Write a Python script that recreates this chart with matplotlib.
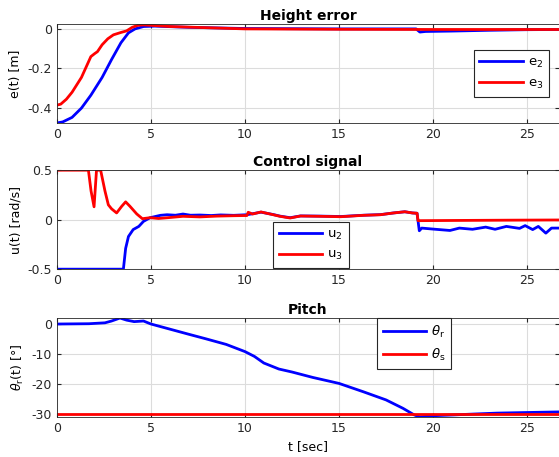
import matplotlib
matplotlib.use("Agg")
import matplotlib.pyplot as plt

# --- Height error ---
t_e2 = [0, 0.3, 0.8, 1.3, 1.8, 2.4, 2.9, 3.4, 3.8, 4.15, 4.6, 5.2, 7, 10, 15, 19.1, 19.3, 19.6, 21, 23, 25, 26.7]
e2 = [-0.475, -0.47, -0.447, -0.40, -0.335, -0.245, -0.155, -0.07, -0.02, 0.0, 0.012, 0.014, 0.008, 0.002,
      0.0, 0.0, -0.016, -0.013, -0.011, -0.007, -0.004, -0.003]
t_e3 = [0, 0.2, 0.5, 0.8, 1.3, 1.8, 2.0, 2.15, 2.4, 2.7, 3.0, 3.4, 3.7, 4.0, 4.3, 4.6, 5.0, 6, 8, 10, 15, 20, 26.7]
e3 = [-0.385, -0.38, -0.355, -0.32, -0.245, -0.14, -0.125, -0.115, -0.08, -0.05, -0.03, -0.018, -0.01,
      0.008, 0.018, 0.02, 0.018, 0.012, 0.006, 0.0, -0.002, -0.003, -0.003]

# --- Control signal ---
t_u2 = [0, 3.53, 3.65, 3.8, 4.05, 4.35, 4.6, 4.95, 5.5, 5.85, 6.3, 6.7, 7.1, 7.6, 8.2, 8.7, 9.4, 10.1,
        10.4, 10.85, 11.5, 11.86, 12.4, 12.95, 14, 15.1, 16.3, 17.2, 17.9, 18.5, 18.9, 19.15,
        19.27, 19.4, 20.0, 20.9, 21.4, 22.1, 22.8, 23.3, 23.9, 24.6, 24.9, 25.3, 25.6, 26.0, 26.3, 26.7]
u2 = [-0.5, -0.5, -0.29, -0.17, -0.10, -0.068, -0.017, 0.02, 0.044, 0.05, 0.045, 0.057, 0.045, 0.047, 0.042,
      0.048, 0.044, 0.05, 0.06, 0.076, 0.052, 0.036, 0.02, 0.038, 0.036, 0.032, 0.045, 0.051, 0.068, 0.08,
      0.068, 0.065, -0.112, -0.085, -0.095, -0.109, -0.085, -0.097, -0.075, -0.097, -0.068, -0.088,
      -0.06, -0.1, -0.068, -0.136, -0.085, -0.085]
t_u3 = [0, 1.67, 1.81, 1.97, 2.1, 2.32, 2.55, 2.73, 2.9, 3.17, 3.44, 3.65, 3.88, 4.24, 4.54, 4.95, 5.4,
        5.9, 6.7, 7.6, 8.5, 9.4, 10.1, 10.17, 10.4, 10.85, 11.5, 11.86, 12.4, 12.95, 14, 15.1, 16.3,
        17.2, 17.9, 18.5, 18.9, 19.15, 19.2, 21, 24, 26.7]
u3 = [0.5, 0.5, 0.29, 0.13, 0.5, 0.5, 0.29, 0.15, 0.11, 0.068, 0.135, 0.18, 0.135, 0.058, 0.01, 0.02, 0.012,
      0.02, 0.034, 0.028, 0.036, 0.04, 0.042, 0.075, 0.057, 0.078, 0.05, 0.034, 0.017, 0.037, 0.034, 0.03,
      0.044, 0.05, 0.068, 0.08, 0.068, 0.065, -0.01, -0.008, -0.005, -0.003]

# --- Pitch ---
t_th = [0, 1.7, 2.55, 2.9, 3.35, 3.7, 4.1, 4.6, 5.0, 6, 7, 7.9, 9, 10, 10.5, 11, 11.8, 12.5, 13.6, 15,
        16.3, 17.5, 18.4, 19.0, 19.3, 19.9, 21.1, 22.2, 23.4, 25, 26.7]
theta_r = [0, 0.1, 0.4, 1.0, 2.0, 1.3, 0.8, 1.0, 0.0, -1.7, -3.4, -4.9, -6.8, -9.2, -10.8, -13.0, -15.0,
           -16.0, -17.8, -19.8, -22.6, -25.3, -28.1, -30.3, -31.0, -30.6, -30.3, -30.0, -29.7, -29.5, -29.3]
t_ths = [0, 26.7]
theta_s = [-30, -30]

plt.rcParams['font.family'] = 'DejaVu Sans'
plt.rcParams['font.size'] = 9
plt.rcParams['mathtext.fontset'] = 'dejavusans'

leg_kw = dict(handlelength=3.3, borderpad=0.45, labelspacing=0.5, handletextpad=0.35,
              borderaxespad=0, fancybox=False, framealpha=1, edgecolor='#262626', fontsize=9.5)

fig = plt.figure(figsize=(5.59, 4.57), dpi=100)
ax1 = fig.add_axes([0.102, 0.731, 0.898, 0.2166])
ax2 = fig.add_axes([0.102, 0.411, 0.898, 0.2166])
ax3 = fig.add_axes([0.102, 0.0875, 0.898, 0.2166])

ax1.plot(t_e2, e2, color='blue', lw=2, label='e$_2$')
ax1.plot(t_e3, e3, color='red', lw=2, label='e$_3$')
ax1.set_ylim(-0.475, 0.025)
ax1.set_yticks([-0.4, -0.2, 0])
ax1.set_yticklabels(['-0.4', '-0.2', '0'])
ax1.set_ylabel('e(t) [m]')
ax1.set_title('Height error', fontweight='bold', fontsize=10, pad=3)
ax1.legend(loc='upper right', bbox_to_anchor=(0.98, 0.737), **leg_kw)

ax2.plot(t_u2, u2, color='blue', lw=2, label='u$_2$')
ax2.plot(t_u3, u3, color='red', lw=2, label='u$_3$')
ax2.set_ylim(-0.5, 0.5)
ax2.set_yticks([-0.5, 0, 0.5])
ax2.set_yticklabels(['-0.5', '0', '0.5'])
ax2.set_ylabel('u(t) [rad/s]')
ax2.set_title('Control signal', fontweight='bold', fontsize=10, pad=3)
ax2.legend(loc='lower left', bbox_to_anchor=(0.43, 0.01), **leg_kw)

ax3.plot(t_th, theta_r, color='blue', lw=2, label=r'$\theta_\mathrm{r}$')
ax3.plot(t_ths, theta_s, color='red', lw=2, label=r'$\theta_\mathrm{s}$')
ax3.set_ylim(-31, 2)
ax3.set_yticks([-30, -20, -10, 0])
ax3.set_yticklabels(['-30', '-20', '-10', '0'])
ax3.set_ylabel(r'$\theta_\mathrm{r}$(t) [°]')
ax3.set_title('Pitch', fontweight='bold', fontsize=10, pad=3)
ax3.set_xlabel('t [sec]')
ax3.legend(loc='upper left', bbox_to_anchor=(0.637, 1.0), **leg_kw)

for ax in (ax1, ax2, ax3):
    ax.set_xlim(0, 26.7)
    ax.set_xticks([0, 5, 10, 15, 20, 25])
    ax.grid(True, color='#dcdcdc', lw=0.8)
    ax.set_axisbelow(True)
    ax.tick_params(direction='in', top=True, right=True, colors='#262626', labelcolor='#262626',
                   length=3, labelsize=9)
    for s in ax.spines.values():
        s.set_color('#262626')
        s.set_linewidth(0.6)
    ax.get_legend().get_frame().set_linewidth(0.8)

fig.savefig('out.png', dpi=100)
